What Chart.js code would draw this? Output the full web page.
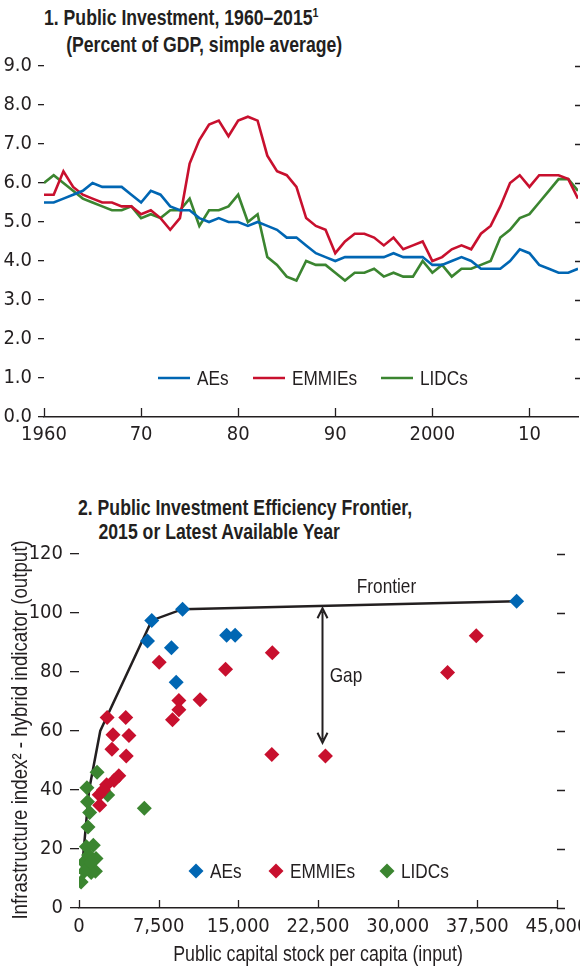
<!DOCTYPE html>
<html>
<head>
<meta charset="utf-8">
<script src="https://cdn.jsdelivr.net/npm/chart.js@4.4.1/dist/chart.umd.min.js"></script>
<style>
  body { margin: 0; width: 580px; height: 969px; overflow: hidden; background: #fff;
         font-family: 'Liberation Sans', Arial, sans-serif; color: #231f20; }
  .title { position: absolute; font-weight: bold; font-size: 21.5px; line-height: 24px; white-space: nowrap;
           transform: scaleX(0.82); transform-origin: 0 0; }
  .title .sup { font-size: 13px; position: relative; top: -8px; }
  #box1 { position: absolute; left: 0; top: 45px; width: 580px; height: 415px; }
  #box2 { position: absolute; left: 0; top: 530px; width: 610px; height: 439px; }
</style>
</head>
<body>
<div class="title" style="left:44px; top:6px;">1. Public Investment, 1960–2015<span class="sup">1</span><br><span style="padding-left:27px">(Percent of GDP, simple average)</span></div>
<div class="title" style="left:78px; top:496px;">2. Public Investment Efficiency Frontier,<br><span style="padding-left:25px">2015 or Latest Available Year</span></div>
<div id="box1"><canvas id="investChart"></canvas></div>
<div id="box2"><canvas id="frontierChart"></canvas></div>

<script>
// ---- panel 1: public investment, percent of GDP ----
const years = Array.from({ length: 56 }, (_, i) => 1960 + i);
const aesInvestment = [
  5.5, 5.5, 5.6, 5.7, 5.8, 6.0, 5.9, 5.9, 5.9, 5.7,
  5.5, 5.8, 5.7, 5.4, 5.3, 5.3, 5.1, 5.0, 5.1, 5.0,
  5.0, 4.9, 5.0, 4.9, 4.8, 4.6, 4.6, 4.4, 4.2, 4.1,
  4.0, 4.1, 4.1, 4.1, 4.1, 4.1, 4.2, 4.1, 4.1, 4.1,
  3.9, 3.9, 4.0, 4.1, 4.0, 3.8, 3.8, 3.8, 4.0, 4.3,
  4.2, 3.9, 3.8, 3.7, 3.7, 3.8
];
const emmiesInvestment = [
  5.7, 5.7, 6.3, 5.9, 5.7, 5.6, 5.5, 5.5, 5.4, 5.4,
  5.2, 5.3, 5.1, 4.8, 5.1, 6.5, 7.1, 7.5, 7.6, 7.2,
  7.6, 7.7, 7.6, 6.7, 6.3, 6.2, 5.9, 5.1, 4.9, 4.8,
  4.2, 4.5, 4.7, 4.7, 4.6, 4.4, 4.6, 4.3, 4.4, 4.5,
  4.0, 4.1, 4.3, 4.4, 4.3, 4.7, 4.9, 5.4, 6.0, 6.2,
  5.9, 6.2, 6.2, 6.2, 6.1, 5.6
];
const lidcsInvestment = [
  6.0, 6.2, 6.0, 5.8, 5.6, 5.5, 5.4, 5.3, 5.3, 5.4,
  5.1, 5.2, 5.1, 5.3, 5.3, 5.6, 4.9, 5.3, 5.3, 5.4,
  5.7, 5.0, 5.2, 4.1, 3.9, 3.6, 3.5, 4.0, 3.9, 3.9,
  3.7, 3.5, 3.7, 3.7, 3.8, 3.6, 3.7, 3.6, 3.6, 4.0,
  3.7, 3.9, 3.6, 3.8, 3.8, 3.9, 4.0, 4.6, 4.8, 5.1,
  5.2, 5.5, 5.8, 6.1, 6.1, 5.8
];
const yearTicks = [1960, 1970, 1980, 1990, 2000, 2010];
const yearTickLabels = ['1960', '70', '80', '90', '2000', '10'];
const pctTicks = [0, 1, 2, 3, 4, 5, 6, 7, 8, 9];

// ---- panel 2: efficiency frontier ----
const aesStock = [6850, 6450, 9750, 8700, 9150, 13900, 14700, 41200];
const aesIndex = [97.5, 90.5, 101.3, 88.2, 76.5, 92.5, 92.5, 104];
const emmiesStock = [2650, 4400, 3200, 4700, 3100, 4450, 3750, 3300, 2600, 1900, 1950, 2300,
  7550, 13800, 18200, 11400, 9400, 9400, 8800, 37400, 34700, 23200, 18150];
const emmiesIndex = [64.6, 64.6, 58.7, 58.5, 53.8, 51.5, 44.8, 43.2, 41.8, 38.4, 34.8, 40,
  83.3, 80.9, 86.5, 70.6, 70.3, 67.2, 63.8, 92.3, 79.8, 51.5, 52];
const lidcsStock = [1700, 750, 800, 2700, 1000, 850, 6150, 700, 1350, 450, 1600, 900, 800, 1550, 200, 1150, 500, 1100];
const lidcsIndex = [46, 40.8, 36, 38.3, 32.4, 27.5, 33.8, 20.8, 21.3, 15.5, 16.8, 18, 13.4, 12.5, 8.8, 12, 12.5, 15.5];
const frontierStock = [250, 950, 2000, 6850, 9750, 41200];
const frontierIndex = [12, 40, 60, 97.5, 101.3, 104];
const stockTicks = [0, 7500, 15000, 22500, 30000, 37500, 45000];
const indexTicks = [0, 20, 40, 60, 80, 100, 120];
// gap annotation (data units)
const gapStock = 22850, gapTop = 101.6, gapBottom = 56;

const INK = '#231f20';
const BLUE = '#0066b3';
const RED = '#c8102e';
const GREEN = '#3b8530';
const TICK_FONT = "'DejaVu Sans Condensed', 'Liberation Sans', sans-serif";
const TEXT_FONT = "'Liberation Sans', Arial, sans-serif";

Chart.defaults.font.family = TICK_FONT;
Chart.defaults.font.size = 20;
Chart.defaults.color = INK;

const zip = (xs, ys) => xs.map((x, i) => ({ x: x, y: ys[i] }));

// Arial squeezed to look like the narrow face of the original
function narrowText(ctx, text, x, y, align, rotate, size) {
  ctx.save();
  ctx.translate(x, y);
  if (rotate) ctx.rotate(-Math.PI / 2);
  ctx.scale(0.82, 1);
  ctx.font = (size || 21) + 'px ' + TEXT_FONT;
  ctx.fillStyle = INK;
  ctx.textAlign = align;
  ctx.textBaseline = 'middle';
  ctx.fillText(text, 0, 0);
  ctx.restore();
}

// upward ticks on the x axis, short dashes on the right edge
const axisMarks = {
  id: 'axisMarks',
  afterDraw(chart, args, opts) {
    const { ctx, chartArea: a, scales: { x, y } } = chart;
    ctx.save();
    ctx.strokeStyle = INK;
    ctx.lineWidth = 1.3;
    ctx.beginPath();
    x.ticks.forEach(t => {
      const px = Math.round(x.getPixelForValue(t.value)) + 0.5;
      ctx.moveTo(px, a.bottom);
      ctx.lineTo(px, a.bottom - opts.up);
    });
    y.ticks.forEach(t => {
      if (t.value === 0 && opts.skipZero) return;
      const py = Math.round(y.getPixelForValue(t.value)) + 0.5;
      ctx.moveTo(a.right + opts.rightFrom, py);
      ctx.lineTo(a.right + opts.rightTo, py);
    });
    ctx.stroke();
    ctx.restore();
    (opts.titles || []).forEach(t => narrowText(ctx, t.text, t.x, t.y, 'center', t.rotate, t.size));
  }
};

// legend drawn inside the plot
const innerLegend = {
  id: 'innerLegend',
  afterDraw(chart, args, opts) {
    const ctx = chart.ctx;
    opts.items.forEach(it => {
      ctx.save();
      if (opts.kind === 'line') {
        ctx.strokeStyle = it.color;
        ctx.lineWidth = 2.5;
        ctx.beginPath();
        ctx.moveTo(it.x, opts.y);
        ctx.lineTo(it.x + 32, opts.y);
        ctx.stroke();
        narrowText(ctx, it.label, it.x + 39, opts.y + 1, 'left');
      } else {
        ctx.fillStyle = it.color;
        ctx.beginPath();
        ctx.moveTo(it.x, opts.y - 7.5);
        ctx.lineTo(it.x + 7.5, opts.y);
        ctx.lineTo(it.x, opts.y + 7.5);
        ctx.lineTo(it.x - 7.5, opts.y);
        ctx.closePath();
        ctx.fill();
        narrowText(ctx, it.label, it.x + 14, opts.y + 1, 'left');
      }
      ctx.restore();
    });
  }
};

// "Frontier" label and the double arrow for the gap
const gapNote = {
  id: 'gapNote',
  afterDatasetsDraw(chart) {
    const { ctx, scales: { x, y } } = chart;
    const px = Math.round(x.getPixelForValue(gapStock)) + 0.5;
    const top = y.getPixelForValue(gapTop);
    const bot = y.getPixelForValue(gapBottom);
    ctx.save();
    ctx.strokeStyle = INK;
    ctx.lineWidth = 2;
    ctx.beginPath();
    ctx.moveTo(px, top + 3);
    ctx.lineTo(px, bot - 3);
    ctx.moveTo(px - 5, top + 10); ctx.lineTo(px, top); ctx.lineTo(px + 5, top + 10);
    ctx.moveTo(px - 5, bot - 10); ctx.lineTo(px, bot); ctx.lineTo(px + 5, bot - 10);
    ctx.stroke();
    ctx.restore();
    narrowText(ctx, 'Frontier', x.getPixelForValue(28950), y.getPixelForValue(108.8), 'center');
    narrowText(ctx, 'Gap', x.getPixelForValue(23600), y.getPixelForValue(78.6), 'left');
  }
};

document.addEventListener('DOMContentLoaded', function () {
  drawInvestment();
  drawFrontier();
});

function drawInvestment() {
  const ctx = document.getElementById('investChart').getContext('2d');
  const lineSet = (label, values, color) => ({
    label: label,
    data: zip(years, values),
    borderColor: color,
    backgroundColor: color,
    borderWidth: 2.6,
    pointRadius: 0,
    tension: 0
  });
  new Chart(ctx, {
    type: 'line',
    data: {
      datasets: [
        lineSet('AEs', aesInvestment, BLUE),
        lineSet('EMMIEs', emmiesInvestment, RED),
        lineSet('LIDCs', lidcsInvestment, GREEN)
      ]
    },
    options: {
      responsive: true,
      maintainAspectRatio: false,
      animation: false,
      layout: { padding: { top: 21, right: 2, left: 0, bottom: 0 } },
      plugins: {
        legend: { display: false },
        tooltip: { enabled: false },
        axisMarks: { up: 9, rightFrom: -3, rightTo: 4, skipZero: true },
        innerLegend: {
          kind: 'line', y: 333,
          items: [
            { label: 'AEs', color: BLUE, x: 158 },
            { label: 'EMMIEs', color: RED, x: 253 },
            { label: 'LIDCs', color: GREEN, x: 381 }
          ]
        }
      },
      scales: {
        x: {
          type: 'linear',
          min: 1960,
          max: 2015,
          afterBuildTicks: s => { s.ticks = yearTicks.map(v => ({ value: v })); },
          afterFit: s => { s.height = 43; },
          ticks: {
            padding: 6,
            maxRotation: 0,
            callback: v => yearTickLabels[yearTicks.indexOf(v)]
          },
          grid: { display: false, drawTicks: false },
          border: { display: true, color: INK, width: 1.5 }
        },
        y: {
          min: 0,
          max: 9,
          afterBuildTicks: s => { s.ticks = pctTicks.map(v => ({ value: v })); },
          afterFit: s => { s.width = 44; },
          ticks: { padding: 6, callback: v => v.toFixed(1) },
          grid: { drawOnChartArea: false, drawTicks: true, tickLength: 6, color: INK, lineWidth: 1.3 },
          border: { display: false }
        }
      }
    },
    plugins: [axisMarks, innerLegend]
  });
}

function drawFrontier() {
  const ctx = document.getElementById('frontierChart').getContext('2d');
  const dots = (label, xs, ys, color) => ({
    label: label,
    data: zip(xs, ys),
    backgroundColor: color,
    borderWidth: 0,
    pointStyle: 'rectRot',
    pointRadius: 7.5,
    pointHoverRadius: 7.5
  });
  new Chart(ctx, {
    type: 'scatter',
    data: {
      datasets: [
        dots('AEs', aesStock, aesIndex, BLUE),
        dots('EMMIEs', emmiesStock, emmiesIndex, RED),
        dots('LIDCs', lidcsStock, lidcsIndex, GREEN),
        {
          label: 'Frontier',
          data: zip(frontierStock, frontierIndex),
          showLine: true,
          borderColor: INK,
          borderWidth: 2.5,
          pointRadius: 0,
          tension: 0,
          order: 10
        }
      ]
    },
    options: {
      responsive: true,
      maintainAspectRatio: false,
      animation: false,
      layout: { padding: { top: 24, right: 53, left: 0, bottom: 0 } },
      plugins: {
        legend: { display: false },
        tooltip: { enabled: false },
        axisMarks: {
          up: 8, rightFrom: 0, rightTo: 8, skipZero: false,
          titles: [
            { text: 'Public capital stock per capita (input)', x: 318, y: 425, size: 21.7 },
            { text: 'Infrastructure index² - hybrid indicator (output)', x: 21, y: 200, rotate: true, size: 22.8 }
          ]
        },
        innerLegend: {
          kind: 'diamond', y: 341,
          items: [
            { label: 'AEs', color: BLUE, x: 196 },
            { label: 'EMMIEs', color: RED, x: 276 },
            { label: 'LIDCs', color: GREEN, x: 387 }
          ]
        }
      },
      scales: {
        x: {
          type: 'linear',
          min: 0,
          max: 45000,
          afterBuildTicks: s => { s.ticks = stockTicks.map(v => ({ value: v })); },
          afterFit: s => { s.height = 61; },
          ticks: { padding: 7, maxRotation: 0, callback: v => v.toLocaleString('en-US') },
          grid: { display: false, drawTicks: false },
          border: { display: true, color: INK, width: 1.5 }
        },
        y: {
          min: 0,
          max: 120,
          afterBuildTicks: s => { s.ticks = indexTicks.map(v => ({ value: v })); },
          afterFit: s => { s.width = 79; },
          ticks: { padding: 7, callback: v => String(v) },
          grid: { drawOnChartArea: false, drawTicks: true, tickLength: 9, color: INK, lineWidth: 1.3 },
          border: { display: false }
        }
      }
    },
    plugins: [axisMarks, innerLegend, gapNote]
  });
}
</script>
</body>
</html>
